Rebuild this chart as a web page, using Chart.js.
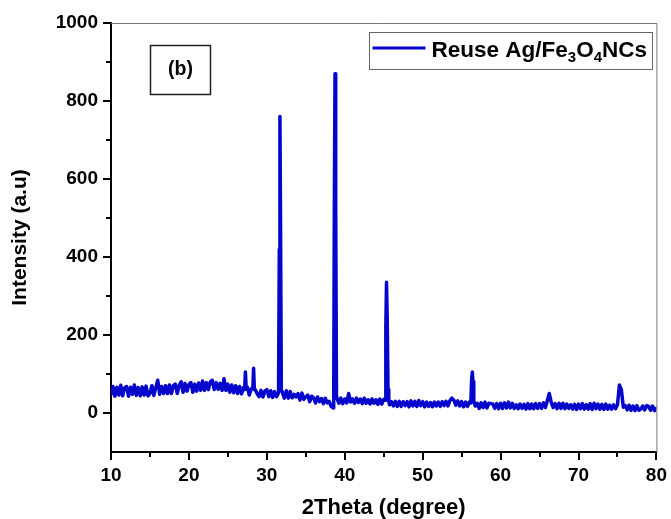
<!DOCTYPE html>
<html>
<head>
<meta charset="utf-8">
<script src="https://cdn.jsdelivr.net/npm/chart.js@4.4.0/dist/chart.umd.min.js"></script>
<style>
  html, body { margin: 0; padding: 0; background: #fff; }
  #wrap { width: 671px; height: 519px; }
</style>
</head>
<body>
<div id="wrap"><canvas id="xrd" width="671" height="519"></canvas></div>
<script>
// XRD pattern of the reused Ag/Fe3O4 nanocomposite
const lineColor = '#0505CC';
const fontFamily = "'Liberation Sans', Arial, sans-serif";

// background counts, one value every 0.25 deg starting at 10
const baseStart = 10;
const baseStep = 0.25;
const baseline = [
  48, 68, 43, 66,   46, 71, 44, 65,   68, 43, 66, 48,   72, 45, 65, 44,   // 10-13
  67, 46, 69, 44,   50, 70, 45, 65,   84, 48, 68, 50,   70, 50, 72, 50,   // 14-17
  70, 74, 50, 71,   80, 53, 76, 56,   73, 78, 53, 74,   56, 77, 58, 82,   // 18-21
  58, 78, 60, 80,   84, 60, 78, 61,   76, 58, 88, 58,   74, 53, 72, 52,   // 22-25
  70, 50, 68, 49,   65, 48, 66, 46,   62, 44, 60, 50,   42, 58, 41, 56,   // 26-29
  60, 42, 57, 40,   55, 42, 57, 45,   53, 38, 57, 38,   55, 39, 48, 41,   // 30-33
  50, 33, 51, 35,   42, 46, 29, 43,   39, 26, 41, 29,   37, 24, 38, 26,   // 34-37
  30, 17, 13, 22,   37, 25, 38, 24,   36, 26, 50, 28,   36, 25, 38, 27,   // 38-41
  36, 24, 38, 25,   34, 23, 36, 25,   34, 22, 36, 23,   35, 24, 30, 21,   // 42-45
  29, 18, 30, 17,   30, 17, 29, 19,   29, 16, 31, 18,   30, 17, 32, 19,   // 46-49
  29, 16, 28, 17,   27, 16, 28, 18,   28, 17, 29, 19,   30, 18, 32, 38,   // 50-53
  33, 20, 31, 18,   29, 16, 28, 17,   28, 17, 24, 18,   25, 12, 26, 14,   // 54-57
  28, 13, 25, 24,   23, 12, 24, 11,   25, 12, 26, 13,   28, 13, 25, 12,   // 58-61
  21, 11, 23, 12,   22, 10, 24, 11,   23, 11, 24, 12,   24, 12, 26, 14,   // 62-65
  32, 50, 27, 14,   24, 11, 25, 12,   25, 11, 23, 12,   21, 10, 22,  9,   // 66-69
  23, 11, 24, 10,   21, 10, 24,  9,   25, 11, 23, 10,   22,  9, 23, 10,   // 70-73
  20, 10, 21, 11,   21, 72, 60, 15,   19,  8, 20,  7,   18,  6, 19,  7,   // 74-77
  10, 18,  8, 19,   17,  7, 18,  6,   12                                  // 78-80
];

// sharp reflections, [2theta, counts]
const peak27 = [[27.15, 60], [27.25, 105], [27.35, 62]];
const peak28 = [[28.2, 62], [28.3, 115], [28.4, 60]];
const peak31 = [[31.5, 52], [31.6, 420], [31.68, 760], [31.76, 480], [31.86, 60]];
const peak38 = [[38.58, 20], [38.66, 520], [38.75, 870], [38.84, 520], [38.94, 40]];
const peak45 = [[45.18, 33], [45.27, 220], [45.36, 335], [45.45, 240], [45.55, 60], [45.65, 30]];
const peak56 = [[56.18, 26], [56.28, 85], [56.37, 105], [56.46, 80], [56.56, 30]];

const xTicks = [10, 20, 30, 40, 50, 60, 70, 80];
const xMinor = [15, 25, 35, 45, 55, 65, 75];
const yTicks = [0, 200, 400, 600, 800, 1000];
const yMinor = [100, 300, 500, 700, 900];

const peaks = [peak27, peak28, peak31, peak38, peak45, peak56];
const points = baseline
  .map((y, i) => ({ x: baseStart + i * baseStep, y }))
  .filter(p => !peaks.some(pk => p.x >= pk[0][0] && p.x <= pk[pk.length - 1][0]));
peaks.forEach(pk => pk.forEach(([x, y]) => points.push({ x, y })));
points.sort((a, b) => a.x - b.x);

// frame, minor ticks, (b) tag and legend
const decorations = {
  id: 'decorations',
  afterDraw(chart) {
    const { ctx, chartArea: a, scales: { x, y } } = chart;
    ctx.save();

    ctx.strokeStyle = '#777';
    ctx.lineWidth = 1;
    ctx.beginPath();
    ctx.moveTo(a.left, a.top + 0.5);
    ctx.lineTo(a.right + 0.5, a.top + 0.5);
    ctx.lineTo(a.right + 0.5, a.bottom);
    ctx.stroke();

    ctx.strokeStyle = '#000';
    ctx.lineWidth = 2;
    ctx.beginPath();
    yMinor.forEach(v => {
      const py = Math.round(y.getPixelForValue(v));
      ctx.moveTo(a.left - 5, py);
      ctx.lineTo(a.left, py);
    });
    xMinor.forEach(v => {
      const px = Math.round(x.getPixelForValue(v));
      ctx.moveTo(px, a.bottom);
      ctx.lineTo(px, a.bottom + 5);
    });
    ctx.stroke();

    // (b) tag
    ctx.lineWidth = 1.5;
    ctx.strokeStyle = '#222';
    ctx.strokeRect(a.left + 39.5, a.top + 22.5, 60, 49);
    ctx.fillStyle = '#000';
    ctx.font = 'bold 19.5px ' + fontFamily;
    ctx.textAlign = 'center';
    ctx.textBaseline = 'middle';
    ctx.fillText('(b)', a.left + 69.5, a.top + 47);

    // legend
    const lx = 369.5, ly = 32.5;
    ctx.strokeStyle = '#666';
    ctx.lineWidth = 1;
    ctx.strokeRect(lx, ly, 283, 37);
    ctx.strokeStyle = lineColor;
    ctx.lineWidth = 3;
    ctx.beginPath();
    ctx.moveTo(lx + 3, 48);
    ctx.lineTo(lx + 56, 48);
    ctx.stroke();

    ctx.textAlign = 'left';
    ctx.textBaseline = 'alphabetic';
    const parts = [['Reuse Ag/Fe', false], ['3', true], ['O', false], ['4', true], ['NCs', false]];
    let tx = lx + 62;
    parts.forEach(([t, sub]) => {
      ctx.font = (sub ? 'bold 15px ' : 'bold 22.5px ') + fontFamily;
      ctx.fillText(t, tx, sub ? 62 : 57);
      tx += ctx.measureText(t).width;
    });
    ctx.restore();
  }
};

const axisFont = { family: fontFamily, size: 19, weight: 'bold' };

new Chart(document.getElementById('xrd'), {
  type: 'line',
  data: {
    datasets: [{
      label: 'Reuse Ag/Fe3O4NCs',
      data: points,
      borderColor: lineColor,
      borderWidth: 3.5,
      borderJoinStyle: 'round',
      borderCapStyle: 'round',
      pointRadius: 0,
      tension: 0,
      fill: false
    }]
  },
  options: {
    responsive: false,
    animation: false,
    layout: { padding: { left: 0, top: 23, right: 10, bottom: 0 } },
    plugins: { legend: { display: false }, tooltip: { enabled: false } },
    scales: {
      x: {
        type: 'linear',
        min: 10,
        max: 80,
        afterBuildTicks: s => { s.ticks = xTicks.map(v => ({ value: v })); },
        afterFit: s => { s.height = 67; },
        ticks: { font: axisFont, color: '#000', padding: 4, maxRotation: 0, callback: v => String(v) },
        grid: { display: true, drawOnChartArea: false, drawTicks: true, tickLength: 8, lineWidth: 2, color: '#000' },
        border: { display: true, width: 2, color: '#000' },
        title: {
          display: true,
          text: '2Theta (degree)',
          color: '#000',
          font: { family: fontFamily, size: 22, weight: 'bold', lineHeight: 1 },
          padding: { top: 0, bottom: 0 }
        }
      },
      y: {
        type: 'linear',
        min: -100,
        max: 1000,
        afterBuildTicks: s => { s.ticks = yTicks.map(v => ({ value: v })); },
        afterFit: s => { s.width = 111; },
        ticks: { font: axisFont, color: '#000', padding: 5, callback: v => String(v) },
        grid: { display: true, drawOnChartArea: false, drawTicks: true, tickLength: 8, lineWidth: 2, color: '#000' },
        border: { display: true, width: 2, color: '#000' },
        title: {
          display: true,
          text: 'Intensity (a.u)',
          color: '#000',
          font: { family: fontFamily, size: 21, weight: 'bold', lineHeight: 1 },
          padding: { top: 10, bottom: 0 }
        }
      }
    }
  },
  plugins: [decorations]
});
</script>
</body>
</html>
